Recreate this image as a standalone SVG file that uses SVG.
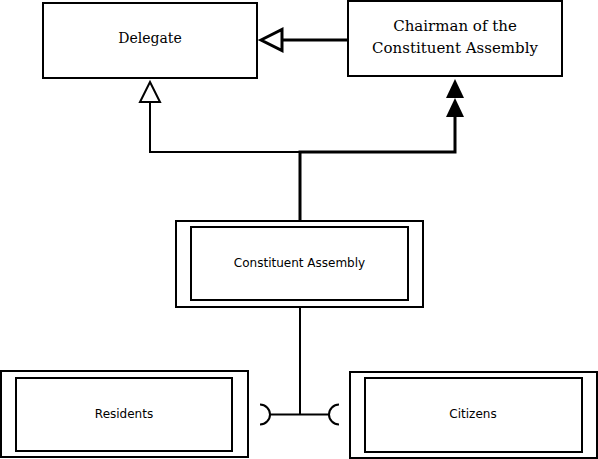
<svg xmlns="http://www.w3.org/2000/svg" width="598" height="459" viewBox="0 0 598 459">
<style>
.box{fill:#fff;stroke:#000;stroke-width:2}
.serif{font-family:"DejaVu Serif",serif;fill:#000;text-anchor:middle}
.sans{font-family:"DejaVu Sans",sans-serif;font-size:12px;fill:#000;text-anchor:middle}
.ln{fill:none;stroke:#000;stroke-width:2}
.thk{fill:none;stroke:#000;stroke-width:3}
</style>
<rect width="598" height="459" fill="#fff"/>
<g id="connectors">
<polyline class="thk" points="348,40 282,40"/>
<polygon points="261,40 282,29.5 282,50.5" fill="#fff" stroke="#000" stroke-width="3"/>
<polyline class="ln" points="150,102 150,152 300,152"/>
<polygon points="150,82 160,102 140,102" fill="#fff" stroke="#000" stroke-width="2"/>
<polyline class="thk" points="300,220 300,152 455,152 455,117"/>
<polygon points="455,98 464,117 446,117" fill="#000"/>
<polygon points="455,79 464,98 446,98" fill="#000"/>
<polyline class="ln" points="300,307 300,414.5"/>
<line class="ln" x1="270" y1="414.5" x2="329" y2="414.5"/>
<path class="ln" d="M260,404.5 A10,10 0 0 1 260,424.5"/>
<path class="ln" d="M339,404.5 A10,10 0 0 0 339,424.5"/>
</g>
<g id="delegate">
<rect class="box" x="43" y="3" width="214" height="75"/>
<text class="serif" x="150" y="43" font-size="14">Delegate</text>
</g>
<g id="chairman">
<rect class="box" x="348" y="1" width="214" height="75"/>
<text class="serif" x="455" y="31" font-size="15">Chairman of the</text>
<text class="serif" x="455" y="53" font-size="15">Constituent Assembly</text>
</g>
<g id="constituent-assembly">
<rect class="box" x="176" y="221" width="247" height="86"/>
<rect class="box" x="191" y="227" width="217" height="73"/>
<text class="sans" x="299.5" y="267">Constituent Assembly</text>
</g>
<g id="residents">
<rect class="box" x="1" y="371" width="247" height="86"/>
<rect class="box" x="16" y="378" width="216" height="73"/>
<text class="sans" x="124" y="418">Residents</text>
</g>
<g id="citizens">
<rect class="box" x="350" y="372" width="247" height="86"/>
<rect class="box" x="365" y="378" width="217" height="74"/>
<text class="sans" x="473" y="418">Citizens</text>
</g>
</svg>
